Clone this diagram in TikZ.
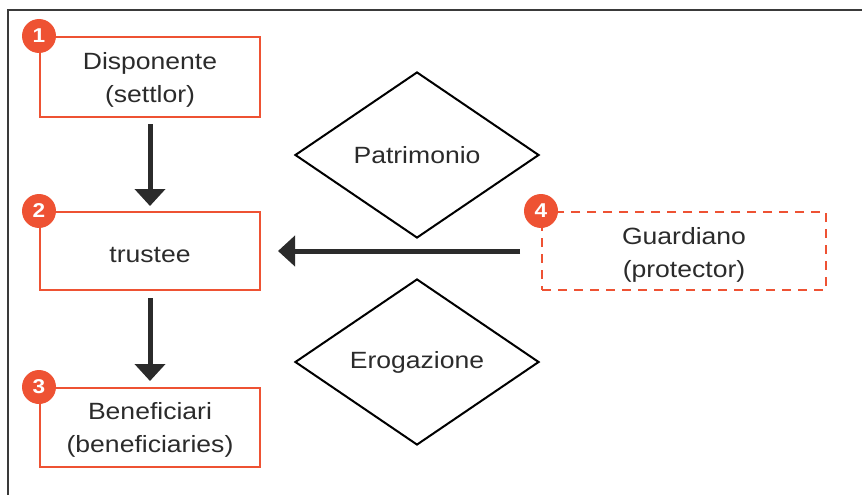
\documentclass[tikz,border=0pt]{standalone}
\usepackage{fontspec}
\setmainfont{Liberation Sans}[FakeStretch=1.13]
\usetikzlibrary{arrows.meta,shapes.geometric}
\definecolor{trustred}{HTML}{EE5233}
\definecolor{ink}{HTML}{2B2B2B}
\definecolor{framegray}{HTML}{3A3A3A}
\tikzset{
  party/.style={draw=trustred, line width=2pt, minimum width=220pt, inner sep=0pt},
  optparty/.style={party, dash pattern=on 9pt off 7pt, minimum width=284pt},
  partytext/.style={text=ink, align=center, inner sep=0pt,
    font=\fontsize{23.5}{33}\selectfont},
  asset/.style={diamond, draw=black, line width=2pt, inner sep=0pt,
    minimum width=244pt, minimum height=166pt, text=ink,
    font=\fontsize{23.5}{33}\selectfont},
  badge/.style={circle, fill=trustred, minimum size=34pt, inner sep=0pt,
    text=white, font=\fontsize{20}{20}\selectfont\bfseries},
  flow/.style={draw=ink, line width=5pt,
    -{Triangle[width=30pt,length=17pt]}},
}
\begin{document}
\begin{tikzpicture}[x=1pt,y=-1pt]
  \useasboundingbox (0,0) rectangle (862,495);
  % outer frame: top and left rules only
  \draw[framegray, line width=1.5pt] (8,495) -- (8,10) -- (862,10);

  % parties
  \node[party, minimum height=80pt] (settlor) at (150,77) {};
  \node[party, minimum height=78pt] (trustee) at (150,251) {};
  \node[party, minimum height=79pt] (benef) at (150,427.5) {};
  \node[optparty, minimum height=78pt] (guard) at (684,251) {};

  % their names, set a little below the box centres
  \node[partytext, yshift=-3pt] (settlorname) at (settlor.center) {Disponente\\(settlor)};
  \node[partytext, yshift=-4pt] (trusteename) at (trustee.center) {trustee};
  \node[partytext, yshift=-2pt] (benefname) at (benef.center) {Beneficiari\\(beneficiaries)};
  \node[partytext, yshift=-4pt] (guardname) at (guard.center) {Guardiano\\(protector)};

  % numbered badges on the top-left corners
  \node[badge] (b1) at (settlor.north west) {1};
  \node[badge] (b2) at (trustee.north west) {2};
  \node[badge] (b3) at (benef.north west) {3};
  \node[badge] (b4) at (guard.north west) {4};

  % what moves between the parties
  \node[asset] (patr) at (417,155) {Patrimonio};
  \node[asset] (erog) at (417,362) {Erogazione};

  % flows
  \draw[flow, shorten <=6pt, shorten >=5pt] (settlor.south) -- (trustee.north);
  \draw[flow, shorten <=7pt, shorten >=6pt] (trustee.south) -- (benef.north);
  \draw[flow, shorten <=21pt, shorten >=17pt] (guard.west) -- (trustee.east);
\end{tikzpicture}
\end{document}
